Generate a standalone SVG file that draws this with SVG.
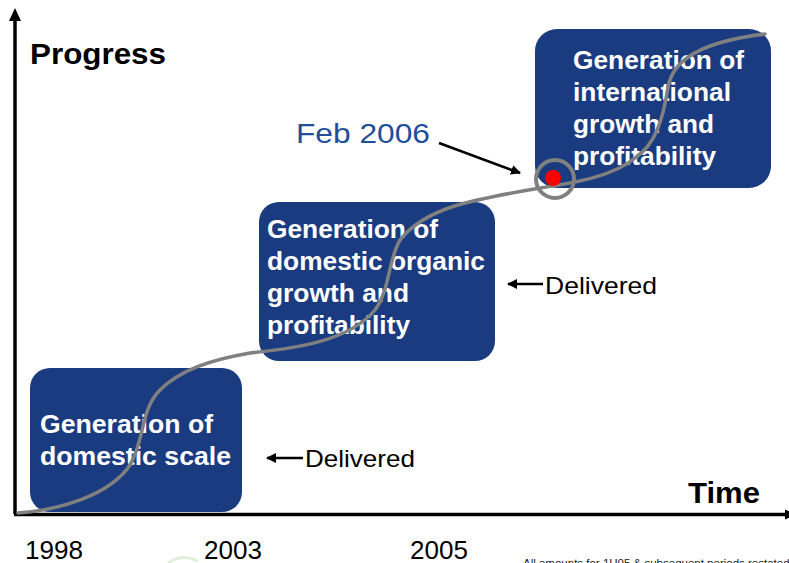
<svg xmlns="http://www.w3.org/2000/svg" width="789" height="563" viewBox="0 0 789 563">
  <style>
    .box { fill: #1a3b7f; }
    .boxtxt { font-family: "Liberation Sans", Arial, sans-serif; font-weight: bold; font-size: 25px; fill: #ffffff; }
    .axislbl { font-family: "Liberation Sans", Arial, sans-serif; font-weight: bold; font-size: 29px; fill: #000000; }
    .lbl { font-family: "Liberation Sans", Arial, sans-serif; font-size: 24px; fill: #000000; }
    .year { font-family: "Liberation Sans", Arial, sans-serif; font-size: 25px; fill: #000000; }
    .axis { stroke: #000000; stroke-width: 3.5; fill: none; }
    .ptr { stroke: #000000; stroke-width: 2.5; fill: none; }
    .curve { stroke: #808080; stroke-width: 3.5; fill: none; stroke-linecap: round; }
  </style>
  <defs>
    <marker id="head" viewBox="0 0 10 10" refX="9" refY="5" markerWidth="4" markerHeight="4" orient="auto" markerUnits="strokeWidth">
      <path d="M0,0 L10,5 L0,10 z" fill="#000000"/>
    </marker>
  </defs>

  <rect width="789" height="563" fill="#ffffff"/>

  <!-- axes -->
  <g id="axes">
    <line class="axis" x1="15" y1="18" x2="15" y2="514"/>
    <polygon points="15,8 9,21 21,21" fill="#000000"/>
    <line class="axis" x1="14" y1="514.5" x2="789" y2="514.5"/>
    <!-- time arrowhead runs off the right edge -->
    <polygon points="797,514.5 785,509.5 785,519.5" fill="#000000"/>
    <text class="axislbl" x="30" y="64" textLength="136" lengthAdjust="spacingAndGlyphs">Progress</text>
    <text class="axislbl" x="688" y="503" textLength="72" lengthAdjust="spacingAndGlyphs">Time</text>
  </g>

  <!-- stage boxes -->
  <g id="stage-domestic-scale">
    <rect class="box" x="30" y="368" width="212" height="144" rx="20"/>
    <text class="boxtxt" x="40" y="433" textLength="173" lengthAdjust="spacingAndGlyphs">Generation of</text>
    <text class="boxtxt" x="40" y="465" textLength="191" lengthAdjust="spacingAndGlyphs">domestic scale</text>
  </g>

  <g id="stage-domestic-organic">
    <rect class="box" x="259" y="202" width="236" height="159" rx="20"/>
    <text class="boxtxt" x="267" y="238" textLength="171" lengthAdjust="spacingAndGlyphs">Generation of</text>
    <text class="boxtxt" x="267" y="270" textLength="218" lengthAdjust="spacingAndGlyphs">domestic organic</text>
    <text class="boxtxt" x="267" y="302" textLength="142" lengthAdjust="spacingAndGlyphs">growth and</text>
    <text class="boxtxt" x="267" y="334" textLength="143" lengthAdjust="spacingAndGlyphs">profitability</text>
  </g>

  <g id="stage-international">
    <rect class="box" x="535" y="29" width="236" height="159" rx="22"/>
    <text class="boxtxt" x="573" y="69" textLength="171" lengthAdjust="spacingAndGlyphs">Generation of</text>
    <text class="boxtxt" x="573" y="101" textLength="158" lengthAdjust="spacingAndGlyphs">international</text>
    <text class="boxtxt" x="573" y="133" textLength="141" lengthAdjust="spacingAndGlyphs">growth and</text>
    <text class="boxtxt" x="573" y="165" textLength="143" lengthAdjust="spacingAndGlyphs">profitability</text>
  </g>

  <!-- progress S-curve and pointers -->
  <g id="connectors">
    <path class="curve" d="M18,513 C60,510 110,495 130,465 C145,440 140,410 160,390 C180,370 210,360 250,353 C300,348 350,340 375,310 C390,290 388,260 400,240 C425,208 470,200 540,188 C580,182 615,175 635,158 C655,145 663,120 668,87 C673,60 700,42 765,34"/>
    <line class="ptr" x1="439" y1="143" x2="520" y2="173" marker-end="url(#head)"/>
    <line class="ptr" x1="303" y1="458" x2="267" y2="458" marker-end="url(#head)"/>
    <line class="ptr" x1="543" y1="284" x2="508" y2="284" marker-end="url(#head)"/>
  </g>

  <!-- current position marker -->
  <g id="marker-feb-2006">
    <circle cx="555" cy="179" r="19" fill="none" stroke="#808080" stroke-width="4"/>
    <circle cx="553" cy="178" r="8" fill="#ff0000"/>
    <text x="296" y="143" font-family="Liberation Sans, Arial, sans-serif" font-size="28" fill="#1f4e9b" textLength="134" lengthAdjust="spacingAndGlyphs">Feb 2006</text>
  </g>

  <g id="status-labels">
    <text class="lbl" x="305" y="467" textLength="110" lengthAdjust="spacingAndGlyphs">Delivered</text>
    <text class="lbl" x="545" y="294" textLength="112" lengthAdjust="spacingAndGlyphs">Delivered</text>
  </g>

  <!-- year ticks along the time axis -->
  <g id="years">
    <text class="year" x="25" y="559" textLength="58" lengthAdjust="spacingAndGlyphs">1998</text>
    <text class="year" x="204" y="559" textLength="58" lengthAdjust="spacingAndGlyphs">2003</text>
    <text class="year" x="410" y="559" textLength="58" lengthAdjust="spacingAndGlyphs">2005</text>
  </g>

  <!-- footnote and faint artwork at the lower edge -->
  <path d="M168,563 Q182,553 198,561" fill="none" stroke="#e2efda" stroke-width="3"/>
  <text x="523" y="567" font-family="Liberation Sans, Arial, sans-serif" font-size="11.5" fill="#222222">All amounts for 1H05 &amp; subsequent periods restated</text>
</svg>
